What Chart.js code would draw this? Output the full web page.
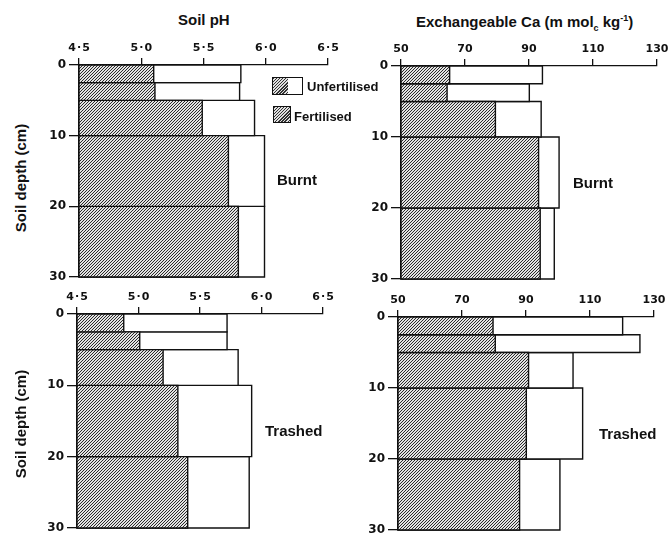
<!DOCTYPE html>
<html>
<head>
<meta charset="utf-8">
<script src="https://cdn.jsdelivr.net/npm/chart.js@4.4.0/dist/chart.umd.min.js"></script>
<style>
  body { margin: 0; background: #fff; }
  #wrap { position: relative; width: 671px; height: 538px; overflow: hidden;
          font-family: 'Liberation Sans', Arial, sans-serif; color: #111; }
  canvas { position: absolute; }
  .txt { position: absolute; font-weight: bold; font-size: 15px; white-space: nowrap; line-height: 1; }
  .ytitle { transform: translate(-50%, -50%) rotate(-90deg); }
  .key { position: absolute; border: 1.5px solid #111; background: #fff; box-sizing: border-box; }
  .hatch { position: absolute; left: 0; top: 0; bottom: 0;
           background: repeating-linear-gradient(135deg, #333 0 1px, #e0e0e0 1px 2.2px); }
  sub, sup { font-size: 9px; line-height: 0; }
</style>
</head>
<body>
<div id="wrap">
  <canvas id="phBurnt"></canvas>
  <canvas id="caBurnt"></canvas>
  <canvas id="phTrash"></canvas>
  <canvas id="caTrash"></canvas>

  <div class="txt" style="left:178px;top:12px">Soil pH</div>
  <div class="txt" style="left:416px;top:14px">Exchangeable Ca (m mol<sub>c</sub> kg<sup>-1</sup>)</div>
  <div class="txt ytitle" style="left:20px;top:178px">Soil depth (cm)</div>
  <div class="txt ytitle" style="left:20px;top:424px">Soil depth (cm)</div>
  <div class="txt" style="left:277px;top:172px">Burnt</div>
  <div class="txt" style="left:573px;top:175px">Burnt</div>
  <div class="txt" style="left:265px;top:423px">Trashed</div>
  <div class="txt" style="left:599px;top:426px">Trashed</div>

  <div class="key" style="left:272px;top:77px;width:31px;height:18px"><span class="hatch" style="width:15px"></span></div>
  <div class="txt" style="left:307px;top:80px;font-size:13px">Unfertilised</div>
  <div class="key" style="left:273px;top:106px;width:18px;height:17px"><span class="hatch" style="right:0"></span></div>
  <div class="txt" style="left:294px;top:110px;font-size:13px">Fertilised</div>
</div>

<script>
// depth layers (cm) and values
const depthEdges = [0, 2.5, 5, 10, 20, 30];

const burntPhFert   = [5.10, 5.11, 5.49, 5.70, 5.78];
const burntPhUnfert = [5.80, 5.79, 5.91, 5.99, 5.99];
const burntCaFert   = [65.2, 64.4, 79.5, 93.0, 93.5];
const burntCaUnfert = [94.2, 90.1, 93.8, 99.4, 97.9];

const trashPhFert   = [4.88, 5.01, 5.20, 5.32, 5.40];
const trashPhUnfert = [5.72, 5.72, 5.81, 5.92, 5.90];
const trashCaFert   = [79.7, 80.4, 90.8, 90.1, 88.0];
const trashCaUnfert = [120.2, 125.6, 104.7, 107.7, 100.6];

const phRange = [4.5, 6.5, 0.5];
const caRange = [50, 130, 20];
const depthTicks = [0, 10, 20, 30];

// diagonal hatch used for the fertilised bars
function makeHatch() {
    const c = document.createElement('canvas');
    c.width = 3; c.height = 3;
    const g = c.getContext('2d');
    g.fillStyle = '#e2e2e2';
    g.fillRect(0, 0, 3, 3);
    g.strokeStyle = '#2a2a2a';
    g.lineWidth = 1;
    g.beginPath();
    g.moveTo(0, 3); g.lineTo(3, 0);
    g.moveTo(-1, 1); g.lineTo(1, -1);
    g.moveTo(2, 4); g.lineTo(4, 2);
    g.stroke();
    return g.createPattern(c, 'repeat');
}
const hatch = makeHatch();

// one closed rectangle per depth layer, from the axis start to the value
function layerShape(start, value, i) {
    const d0 = depthEdges[i], d1 = depthEdges[i + 1];
    return [
        {x: start, y: d0}, {x: value, y: d0}, {x: value, y: d1},
        {x: start, y: d1}, {x: start, y: d0}
    ];
}

function buildDatasets(fert, unfert, start) {
    const sets = [];
    fert.forEach(function(v, i) {
        sets.push({
            data: layerShape(start, v, i),
            showLine: true, fill: 'shape', backgroundColor: hatch,
            borderColor: '#111', borderWidth: 1.4, pointRadius: 0,
            borderJoinStyle: 'miter', order: 0, clip: false
        });
    });
    unfert.forEach(function(v, i) {
        sets.push({
            data: layerShape(start, v, i),
            showLine: true, fill: 'shape', backgroundColor: '#fff',
            borderColor: '#111', borderWidth: 1.4, pointRadius: 0,
            borderJoinStyle: 'miter', order: 1, clip: false
        });
    });
    return sets;
}

const padL = 45, padT = 32, padR = 16, padB = 12;

function makePanel(id, area, fert, unfert, range, fmt) {
    const canvas = document.getElementById(id);
    const w = area.right - area.left + padL + padR;
    const h = area.bottom - area.top + padT + padB;
    canvas.width = w; canvas.height = h;
    canvas.style.left = (area.left - padL) + 'px';
    canvas.style.top = (area.top - padT) + 'px';
    canvas.style.width = w + 'px';
    canvas.style.height = h + 'px';

    return new Chart(canvas.getContext('2d'), {
        type: 'scatter',
        data: { datasets: buildDatasets(fert, unfert, range[0]) },
        options: {
            responsive: false,
            animation: false,
            events: [],
            layout: { padding: { left: 0, top: 0, right: padR, bottom: padB } },
            plugins: { legend: { display: false }, tooltip: { enabled: false } },
            scales: {
                x: {
                    type: 'linear', position: 'top',
                    min: range[0], max: range[1],
                    afterFit: function(s) { s.height = padT; },
                    ticks: {
                        stepSize: range[2], padding: 3, color: '#111',
                        font: { family: 'DejaVu Sans', size: 11, weight: 'bold' },
                        callback: fmt
                    },
                    grid: { drawOnChartArea: false, tickLength: 7, color: '#111', lineWidth: 1.3 },
                    border: { color: '#111', width: 1.3 }
                },
                y: {
                    type: 'linear', reverse: true, min: 0, max: 30,
                    afterFit: function(s) { s.width = padL; },
                    afterBuildTicks: function(s) { s.ticks = depthTicks.map(function(v) { return {value: v}; }); },
                    ticks: {
                        padding: 3, color: '#111',
                        font: { family: 'DejaVu Sans', size: 12, weight: 'bold' }
                    },
                    grid: { drawOnChartArea: false, tickLength: 10, color: '#111', lineWidth: 1.3 },
                    border: { color: '#111', width: 1.3 }
                }
            }
        }
    });
}

const phLabel = function(v) { return v.toFixed(1).replace('.', '\u200a\u00b7\u200a'); };
const caLabel = function(v) { return String(v); };

makePanel('phBurnt', {left: 79, right: 328, top: 65, bottom: 277}, burntPhFert, burntPhUnfert, phRange, phLabel);
makePanel('caBurnt', {left: 401, right: 657, top: 66, bottom: 279}, burntCaFert, burntCaUnfert, caRange, caLabel);
makePanel('phTrash', {left: 77, right: 323, top: 314, bottom: 528}, trashPhFert, trashPhUnfert, phRange, phLabel);
makePanel('caTrash', {left: 398, right: 654, top: 317, bottom: 530}, trashCaFert, trashCaUnfert, caRange, caLabel);
</script>
</body>
</html>
